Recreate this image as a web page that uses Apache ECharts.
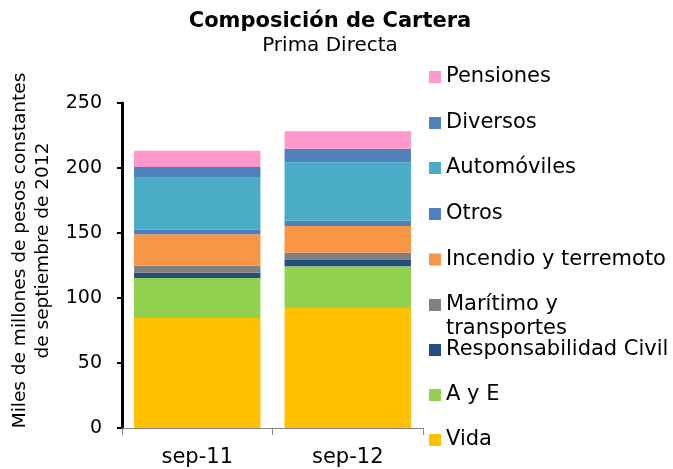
<!DOCTYPE html>
<html>
<head>
<meta charset="utf-8">
<script src="https://cdn.jsdelivr.net/npm/echarts@6/dist/echarts.min.js"></script>
<style>
html,body{margin:0;padding:0;background:#fff;}
#chart{width:673px;height:469px;}
</style>
</head>
<body>
<div id="chart"></div>
<script>
const categories = ['sep-11', 'sep-12'];
const vida = [84.6, 92.3];
const aye = [30.8, 32.1];
const respCivil = [4.1, 4.8];
const maritimo = [5.4, 5.7];
const incendio = [24.1, 20.5];
const otros = [3.5, 4.1];
const automoviles = [40.6, 44.9];
const diversos = [7.7, 10.5];
const pensiones = [12.5, 13.3];
const yTicks = [0, 50, 100, 150, 200, 250];

const seriesDefs = [
  {name: 'Vida', data: vida, color: '#FFC000'},
  {name: 'A y E', data: aye, color: '#92D050'},
  {name: 'Responsabilidad Civil', data: respCivil, color: '#254E80'},
  {name: 'Marítimo y transportes', data: maritimo, color: '#808080'},
  {name: 'Incendio y terremoto', data: incendio, color: '#F79646'},
  {name: 'Otros', data: otros, color: '#4F81BD'},
  {name: 'Automóviles', data: automoviles, color: '#4BACC6'},
  {name: 'Diversos', data: diversos, color: '#4F81BD'},
  {name: 'Pensiones', data: pensiones, color: '#FF99CC'}
];

const FONT = 'DejaVu Sans';
const legendOrder = seriesDefs.map(s => s.name).reverse();
const legendCenters = [77, 123, 168, 214, 259.5, 305, 350, 395, 440];

const legends = legendOrder.map((name, i) => {
  const isMar = name === 'Marítimo y transportes';
  const c = legendCenters[i];
  return {
    show: true,
    orient: 'vertical',
    left: 429,
    top: isMar ? c - 36 : c - 12,
    padding: 0,
    itemWidth: 12,
    itemHeight: 12,
    itemGap: 0,
    icon: 'rect',
    selectedMode: false,
    data: [name],
    formatter: isMar ? ' \nMarítimo y\ntransportes' : '{name}',
    textStyle: {fontFamily: FONT, fontSize: 21, lineHeight: 24, color: '#000'}
  };
});

const chart = echarts.init(document.getElementById('chart'), null, {renderer: 'canvas'});
chart.setOption({
  animation: false,
  backgroundColor: '#fff',
  title: [
    {text: 'Composición de Cartera', left: 330, top: 10, textAlign: 'center', padding: 0,
     textStyle: {fontFamily: FONT, fontSize: 21, fontWeight: 'bold', color: '#000', lineHeight: 24}},
    {text: 'Prima Directa', left: 330, top: 34, textAlign: 'center', padding: 0,
     textStyle: {fontFamily: FONT, fontSize: 20, fontWeight: 'normal', color: '#000', lineHeight: 24}}
  ],
  legend: legends,
  grid: {left: 122, right: 250, top: 103, bottom: 41, containLabel: false},
  xAxis: {
    type: 'category',
    data: categories,
    axisLine: {show: true, lineStyle: {color: '#868686', width: 1}},
    axisTick: {show: true, length: 7, alignWithLabel: false, lineStyle: {color: '#868686', width: 1}},
    axisLabel: {fontFamily: FONT, fontSize: 21, color: '#000', margin: 19},
    splitLine: {show: false}
  },
  yAxis: {
    type: 'value',
    min: yTicks[0],
    max: yTicks[yTicks.length - 1],
    interval: yTicks[1] - yTicks[0],
    name: 'Miles de millones de pesos constantes\nde septiembre de 2012',
    nameLocation: 'middle',
    nameGap: 67,
    nameTextStyle: {fontFamily: FONT, fontSize: 18.5, lineHeight: 23, color: '#000', padding: [0, 0, 0, 30]},
    axisLine: {show: true, lineStyle: {color: '#000', width: 3}},
    axisTick: {show: true, length: 5, lineStyle: {color: '#000', width: 2}},
    axisLabel: {fontFamily: FONT, fontSize: 19, color: '#000', margin: 20},
    splitLine: {show: false}
  },
  series: seriesDefs.map(s => ({
    name: s.name,
    type: 'bar',
    stack: 'total',
    barCategoryGap: '16%',
    data: s.data,
    itemStyle: {color: s.color},
    emphasis: {disabled: true}
  }))
});
</script>
</body>
</html>
